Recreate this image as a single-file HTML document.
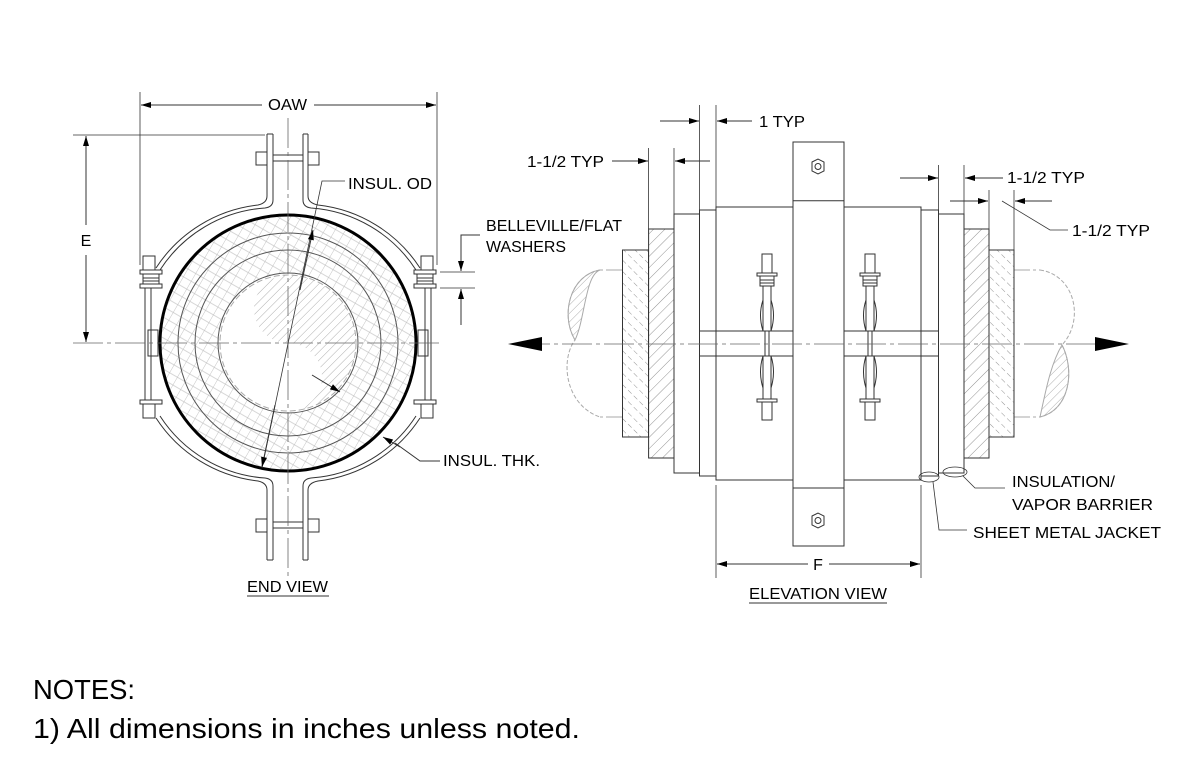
<!DOCTYPE html>
<html><head><meta charset="utf-8"><style>
html,body{margin:0;padding:0;background:#fff;}
svg{display:block;font-family:"Liberation Sans",Arial,sans-serif;}
</style></head><body>
<svg width="1200" height="776" viewBox="0 0 1200 776" xmlns="http://www.w3.org/2000/svg">
<defs>
<pattern id="h1" width="8" height="8" patternUnits="userSpaceOnUse" patternTransform="rotate(45)"><line x1="0" y1="0" x2="0" y2="8" stroke="#777" stroke-width="0.8"/></pattern>
<pattern id="h2" width="8" height="8" patternUnits="userSpaceOnUse" patternTransform="rotate(-45)"><line x1="0" y1="0" x2="0" y2="8" stroke="#777" stroke-width="0.8" stroke-dasharray="5 3"/></pattern>
<pattern id="h3" width="6" height="6" patternUnits="userSpaceOnUse" patternTransform="rotate(45)"><line x1="0" y1="0" x2="0" y2="6" stroke="#999" stroke-width="0.8"/></pattern>
<pattern id="h4" width="9" height="9" patternUnits="userSpaceOnUse" patternTransform="rotate(30)"><line x1="0" y1="0" x2="0" y2="9" stroke="#aaa" stroke-width="0.7"/><line x1="0" y1="4" x2="9" y2="4" stroke="#bbb" stroke-width="0.6"/></pattern>
<marker id="a" viewBox="0 0 10 6" refX="10" refY="3" markerWidth="14" markerHeight="6" markerUnits="userSpaceOnUse" orient="auto"><path d="M0,0 L10,3 L0,6z" fill="#000"/></marker>
</defs>
<g fill="none" stroke="#333" stroke-width="1">

<!-- ================= END VIEW ================= -->
<circle cx="288" cy="343" r="128" fill="url(#h4)" stroke="none"/>
<circle cx="288" cy="343" r="70" fill="#fff" stroke="none"/>
<path d="M288,275 A34,34 0 0 0 288,343 A34,34 0 0 1 288,411 A68,68 0 0 0 288,275z" fill="url(#h3)" stroke="none"/>
<circle cx="288" cy="343" r="110" stroke="#555"/>
<circle cx="288" cy="343" r="93" stroke="#555"/>
<circle cx="288" cy="343" r="70" stroke="#555"/>
<circle cx="288" cy="343" r="68" stroke="#aaa" stroke-dasharray="6 3"/>
<circle cx="288" cy="343" r="128" stroke="#000" stroke-width="3"/>
<path d="M273,200 Q273,207 265,208 A136,136 0 0 0 160,270" />
<path d="M303,200 Q303,207 311,208 A136,136 0 0 1 416,270"/>
<path d="M273,486 Q273,479 265,478 A136,136 0 0 1 160,416"/>
<path d="M303,486 Q303,479 311,478 A136,136 0 0 0 416,416"/>
<path d="M267,134 L267,196 Q267,203 258,205 A140,140 0 0 0 156,268"/>
<path d="M308,134 L308,196 Q308,203 318,205 A140,140 0 0 1 420,268"/>
<path d="M267,560 L267,490 Q267,483 258,481 A140,140 0 0 1 156,418"/>
<path d="M308,560 L308,490 Q308,483 318,481 A140,140 0 0 0 420,418"/>
<line x1="267" y1="134" x2="273" y2="134"/><line x1="273" y1="134" x2="273" y2="200"/>
<line x1="303" y1="134" x2="308" y2="134"/><line x1="303" y1="134" x2="303" y2="200"/>
<line x1="267" y1="560" x2="273" y2="560"/><line x1="273" y1="560" x2="273" y2="486"/>
<line x1="303" y1="560" x2="308" y2="560"/><line x1="303" y1="560" x2="303" y2="486"/>
<rect x="256" y="152" width="11" height="13"/><rect x="308" y="152" width="11" height="13"/>
<line x1="273" y1="155" x2="303" y2="155"/><line x1="273" y1="161" x2="303" y2="161"/>
<rect x="256" y="519" width="11" height="13"/><rect x="308" y="519" width="11" height="13"/>
<line x1="273" y1="522" x2="303" y2="522"/><line x1="273" y1="528" x2="303" y2="528"/>
<g id="ear">
<rect x="143" y="256" width="12" height="14"/>
<rect x="140" y="270" width="22" height="4"/>
<rect x="143" y="274" width="16" height="10"/>
<line x1="143" y1="278" x2="159" y2="278"/><line x1="143" y1="281" x2="159" y2="281"/>
<rect x="140" y="284" width="22" height="4"/>
<rect x="145" y="288" width="6" height="112"/>
<rect x="148" y="330" width="10" height="26"/>
<rect x="140" y="400" width="22" height="4"/>
<rect x="143" y="404" width="12" height="14"/>
</g>
<use href="#ear" transform="translate(576,0) scale(-1,1)"/>
<g stroke="#666" stroke-width="0.8">
<line x1="288" y1="118" x2="288" y2="576" stroke-dasharray="30 4 4 4"/>
<line x1="73" y1="343" x2="442" y2="343" stroke-dasharray="30 4 4 4"/>
</g>
<line x1="140" y1="92" x2="140" y2="265" stroke-width="0.8"/>
<line x1="437" y1="92" x2="437" y2="265" stroke-width="0.8"/>
<line x1="262" y1="105" x2="141" y2="105" marker-end="url(#a)"/>
<line x1="314" y1="105" x2="436" y2="105" marker-end="url(#a)"/>
<line x1="73" y1="135" x2="265" y2="135" stroke-width="0.8"/>
<line x1="86" y1="225" x2="86" y2="136" marker-end="url(#a)"/>
<line x1="86" y1="255" x2="86" y2="342" marker-end="url(#a)"/>
<line x1="440" y1="272" x2="475" y2="272" stroke-width="0.8"/>
<line x1="440" y1="288" x2="475" y2="288" stroke-width="0.8"/>
<polyline points="480,235 461,235 461,271" marker-end="url(#a)"/>
<line x1="461" y1="325" x2="461" y2="289" marker-end="url(#a)"/>
<polyline points="345,181 322,181 262,468" stroke-width="0.8"/>
<line x1="300" y1="290" x2="313" y2="230" marker-end="url(#a)"/>
<line x1="275" y1="405" x2="262" y2="467" marker-end="url(#a)"/>
<line x1="312" y1="375" x2="340" y2="392" marker-end="url(#a)"/>
<polyline points="440,461 420,461 395,443" />
<line x1="400" y1="447" x2="383" y2="437" marker-end="url(#a)"/>

<!-- ================= ELEVATION ================= -->
<path d="M622,270 L600,270 M622,417 L600,417" stroke="#aaa" stroke-dasharray="16 3 3 3"/>
<path d="M600,270 C570,275 560,315 575,340 C560,360 565,405 600,417" stroke="#aaa" stroke-dasharray="4 2"/>
<path d="M600,270 C585,275 585,320 575,340 C560,315 570,275 600,270z" fill="url(#h3)" stroke="#aaa"/>
<path d="M1014,270 L1040,270 M1014,417 L1040,417" stroke="#aaa" stroke-dasharray="16 3 3 3"/>
<path d="M1040,270 C1075,275 1085,320 1062,345 C1075,370 1070,410 1040,417" stroke="#aaa" stroke-dasharray="4 2"/>
<path d="M1062,345 C1075,370 1070,410 1040,417 C1045,395 1050,365 1062,345z" fill="url(#h3)" stroke="#aaa"/>
<rect x="622.5" y="250" width="26" height="187" fill="url(#h2)"/>
<rect x="648.6" y="229" width="25.4" height="229" fill="url(#h1)"/>
<rect x="989" y="250" width="25" height="187" fill="url(#h2)"/>
<rect x="964" y="229" width="25" height="229" fill="url(#h1)"/>
<rect x="674" y="214" width="25.5" height="259" fill="#fff"/>
<rect x="699.5" y="210" width="16.5" height="266" fill="#fff"/>
<rect x="938.5" y="214" width="25.5" height="259" fill="#fff"/>
<rect x="921" y="210" width="17.5" height="266" fill="#fff"/>
<rect x="716" y="207" width="205" height="273" fill="#fff"/>
<rect x="716" y="207" width="77" height="124"/>
<rect x="844" y="207" width="77" height="124"/>
<rect x="716" y="356" width="77" height="124"/>
<rect x="844" y="356" width="77" height="124"/>
<line x1="699.5" y1="331" x2="716" y2="331"/><line x1="921" y1="331" x2="938.5" y2="331"/>
<line x1="699.5" y1="356" x2="716" y2="356"/><line x1="921" y1="356" x2="938.5" y2="356"/>
<rect x="793" y="142" width="51" height="404" fill="#fff"/>
<line x1="793" y1="200.7" x2="844" y2="200.7"/><line x1="793" y1="488" x2="844" y2="488"/>
<polygon points="812,162 818,159 824,162 824,171 818,174 812,171"/><circle cx="818" cy="166.5" r="3"/>
<polygon points="812,516 818,513 824,516 824,525 818,528 812,525"/><circle cx="818" cy="520.5" r="3"/>
<g id="bolt">
<rect x="762" y="254" width="10" height="19"/>
<rect x="757" y="273" width="20" height="3"/>
<rect x="760" y="276" width="14" height="10"/>
<line x1="760" y1="280" x2="774" y2="280"/><line x1="760" y1="283" x2="774" y2="283"/>
<rect x="763" y="286" width="8" height="45"/>
<path d="M763,300 Q758,315 763,331 M771,300 Q776,315 771,331"/>
<rect x="765" y="331" width="4" height="25"/>
<rect x="763" y="356" width="8" height="43"/>
<path d="M763,356 Q758,372 763,388 M771,356 Q776,372 771,388"/>
<rect x="757" y="399" width="20" height="3"/>
<rect x="762" y="402" width="10" height="18"/>
</g>
<use href="#bolt" transform="translate(103,0)"/>
<line x1="520" y1="344" x2="1120" y2="344" stroke="#666" stroke-width="0.8" stroke-dasharray="30 4 4 4"/>
<path d="M508,344 L542,337 L542,351z" fill="#000" stroke="none"/>
<path d="M1129,344 L1095,337 L1095,351z" fill="#000" stroke="none"/>
<ellipse cx="929" cy="477" rx="10" ry="5" stroke-width="0.8"/>
<ellipse cx="955" cy="472" rx="12" ry="5" stroke-width="0.8"/>
<polyline points="963,476 975,488 1005,488" stroke-width="0.8"/>
<polyline points="933,482 939,530 967,530" stroke-width="0.8"/>
<g stroke-width="0.8">
<line x1="699.5" y1="105" x2="699.5" y2="210"/><line x1="716" y1="105" x2="716" y2="207"/>
<line x1="648.6" y1="148" x2="648.6" y2="229"/><line x1="674" y1="148" x2="674" y2="214"/>
<line x1="938.5" y1="165" x2="938.5" y2="214"/><line x1="964" y1="165" x2="964" y2="229"/>
<line x1="989" y1="190" x2="989" y2="250"/><line x1="1014" y1="190" x2="1014" y2="250"/>
<line x1="716" y1="485" x2="716" y2="578"/><line x1="921" y1="485" x2="921" y2="578"/>
</g>
<line x1="660" y1="121" x2="699" y2="121" marker-end="url(#a)"/>
<line x1="752" y1="121" x2="717" y2="121" marker-end="url(#a)"/>
<line x1="612" y1="161" x2="648" y2="161" marker-end="url(#a)"/>
<line x1="710" y1="161" x2="675" y2="161" marker-end="url(#a)"/>
<line x1="900" y1="178" x2="938" y2="178" marker-end="url(#a)"/>
<line x1="1003" y1="178" x2="965" y2="178" marker-end="url(#a)"/>
<line x1="950" y1="201" x2="988" y2="201" marker-end="url(#a)"/>
<line x1="1052" y1="201" x2="1015" y2="201" marker-end="url(#a)"/>
<polyline points="1002,201 1050,230 1068,230" stroke-width="0.8"/>
<line x1="808" y1="564" x2="717" y2="564" marker-end="url(#a)"/>
<line x1="829" y1="564" x2="920" y2="564" marker-end="url(#a)"/>
<line x1="247" y1="596" x2="329" y2="596"/>
<line x1="749" y1="603" x2="887" y2="603"/>
</g>

<g font-size="16" fill="#000" lengthAdjust="spacingAndGlyphs">
<text x="268" y="110" textLength="39" lengthAdjust="spacingAndGlyphs">OAW</text>
<text x="86" y="246" text-anchor="middle">E</text>
<text x="348" y="189" textLength="84" lengthAdjust="spacingAndGlyphs">INSUL. OD</text>
<text x="486" y="231" textLength="136" lengthAdjust="spacingAndGlyphs">BELLEVILLE/FLAT</text>
<text x="486" y="252" textLength="80" lengthAdjust="spacingAndGlyphs">WASHERS</text>
<text x="443" y="466" textLength="97" lengthAdjust="spacingAndGlyphs">INSUL. THK.</text>
<text x="247" y="592" textLength="81" lengthAdjust="spacingAndGlyphs">END VIEW</text>
<text x="759" y="127" textLength="46" lengthAdjust="spacingAndGlyphs">1 TYP</text>
<text x="527" y="167" textLength="77" lengthAdjust="spacingAndGlyphs">1-1/2 TYP</text>
<text x="1007" y="183" textLength="78" lengthAdjust="spacingAndGlyphs">1-1/2 TYP</text>
<text x="1072" y="236" textLength="78" lengthAdjust="spacingAndGlyphs">1-1/2 TYP</text>
<text x="818" y="570" text-anchor="middle">F</text>
<text x="1012" y="487" textLength="103" lengthAdjust="spacingAndGlyphs">INSULATION/</text>
<text x="1012" y="510" textLength="141" lengthAdjust="spacingAndGlyphs">VAPOR BARRIER</text>
<text x="973" y="538" textLength="188" lengthAdjust="spacingAndGlyphs">SHEET METAL JACKET</text>
<text x="749" y="599" textLength="138" lengthAdjust="spacingAndGlyphs">ELEVATION VIEW</text>
</g>
<text x="33" y="699" font-size="28" fill="#000" textLength="102" lengthAdjust="spacingAndGlyphs">NOTES:</text>
<text x="33" y="738" font-size="28" fill="#000" textLength="547" lengthAdjust="spacingAndGlyphs">1) All dimensions in inches unless noted.</text>
</svg>
</body></html>
